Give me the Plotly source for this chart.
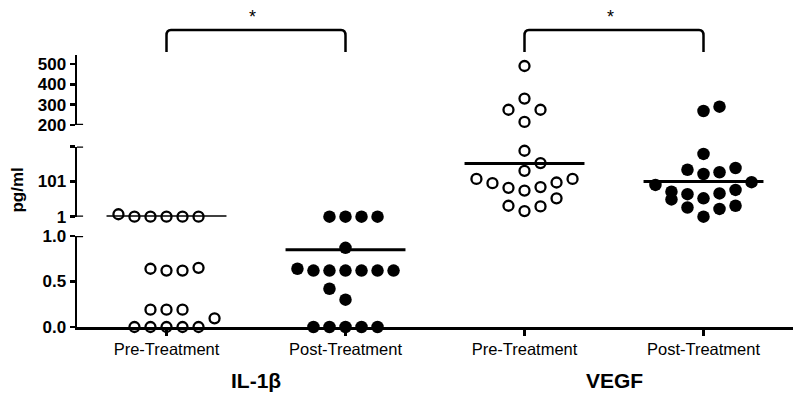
import plotly.graph_objects as go

# ---------------- data ----------------
categories = ["Pre-Treatment", "Post-Treatment", "Pre-Treatment", "Post-Treatment"]
groups = ["IL-1β", "VEGF"]

il1b_pre = [8, 1, 1, 1, 1, 1, 0.64, 0.62, 0.62, 0.65, 0.19, 0.19, 0.19, 0.095, 0, 0, 0, 0, 0]
il1b_pre_slot = [-3, -2, -1, 0, 1, 2, -1, 0, 1, 2, -1, 0, 1, 3, -2, -1, 0, 1, 2]

il1b_post = [1, 1, 1, 1, 0.87, 0.64, 0.62, 0.62, 0.62, 0.62, 0.62, 0.62, 0.42, 0.30, 0, 0, 0, 0, 0]
il1b_post_slot = [-1, 0, 1, 2, 0, -3, -2, -1, 0, 1, 2, 3, -1, 0, -2, -1, 0, 1, 2]

vegf_pre = [490, 330, 275, 275, 215, 188, 153, 131, 108, 108, 96, 98, 83, 85, 75, 53, 32, 30, 17]
vegf_pre_slot = [0, 0, -1, 1, 0, 0, 1, 0, -3, 3, -2, 2, -1, 1, 0, 2, -1, 1, 0]

vegf_post = [269, 290, 179, 134, 122, 127, 139, 91, 99, 72, 50, 65, 53, 67, 77, 27, 23, 32, 1]
vegf_post_slot = [0, 1, 0, -1, 0, 1, 2, -3, 3, -2, -2, -1, 0, 1, 2, -1, 1, 2, 0]

mean_values = [1, 0.85, 152, 101]

# axis break segments
seg_bottom = [0, 1.0]
seg_middle = [1, 200]
seg_top = [200, 544]

# ---------------- helpers ----------------
SLOT = 0.0895
HALF = 0.335


def seg(v):
    if v < 1:
        return "y"
    if v < 200:
        return "y2"
    return "y3"


series = [
    (il1b_pre, il1b_pre_slot, False),
    (il1b_post, il1b_post_slot, True),
    (vegf_pre, vegf_pre_slot, False),
    (vegf_post, vegf_post_slot, True),
]

fig = go.Figure()

for ci, (vals, slots, filled) in enumerate(series):
    for ax in ["y", "y2", "y3"]:
        xs = [ci + s * SLOT for v, s in zip(vals, slots) if seg(v) == ax]
        ys = [v for v in vals if seg(v) == ax]
        if not xs:
            continue
        if filled:
            marker = dict(symbol="circle", size=12.5, color="black", line=dict(width=0))
        else:
            marker = dict(symbol="circle-open", size=10, color="black", line=dict(width=2.3, color="black"))
        fig.add_trace(go.Scatter(x=xs, y=ys, mode="markers", marker=marker,
                                 xaxis="x", yaxis=ax, cliponaxis=False, hoverinfo="skip"))
    m = mean_values[ci]
    fig.add_trace(go.Scatter(x=[ci - HALF, ci + HALF], y=[m, m], mode="lines",
                             line=dict(color="black", width=3), xaxis="x", yaxis=seg(m),
                             cliponaxis=False, hoverinfo="skip"))

FONT = "Liberation Sans, Arial, sans-serif"
axis_common = dict(showline=True, linecolor="black", linewidth=2.5, ticks="outside",
                   ticklen=5, tickwidth=2.5, tickcolor="black", showgrid=False, zeroline=False,
                   tickfont=dict(family=FONT, size=17, color="black", weight="bold"))

fig.update_layout(
    width=800, height=408,
    margin=dict(l=77, r=7, t=55, b=81),
    plot_bgcolor="white", paper_bgcolor="white",
    showlegend=False,
    xaxis=dict(range=[-0.5, 3.5], showline=True, linecolor="black", linewidth=2.5,
               ticks="outside", ticklen=6, tickwidth=2.5, tickcolor="black",
               tickvals=[0, 1, 2, 3], ticktext=categories, showgrid=False, zeroline=False,
               tickfont=dict(family=FONT, size=16.5, color="black"),
               anchor="y"),
    yaxis=dict(domain=[0, 0.3346], range=seg_bottom, tickvals=[0, 0.5, 1.0],
               ticktext=["0.0", "0.5", "1.0"], anchor="x", **axis_common),
    yaxis2=dict(domain=[0.4055, 0.6636], range=seg_middle, tickvals=[1, 101, 200],
                ticktext=["1", "101", ""], anchor="x", **axis_common),
    yaxis3=dict(domain=[0.7426, 1.0], range=seg_top, tickvals=[200, 300, 400, 500],
                ticktext=["200", "300", "400", "500"], anchor="x", **axis_common),
)

# caps on the broken axis segments (extend to the right of the axis line)
for yref, yv in [("y", 1.0), ("y2", 1), ("y2", 200), ("y3", 200)]:
    fig.add_shape(type="line", xref="paper", yref=yref, x0=0, x1=0.0085, y0=yv, y1=yv,
                  line=dict(color="black", width=2.5))


# significance brackets
def bracket(xa, xb):
    yb, yt, r = 1.011, 1.092, 0.02
    rx = 0.025
    return (f"M {xa},{yb} L {xa},{yt - r} Q {xa},{yt} {xa + rx},{yt} "
            f"L {xb - rx},{yt} Q {xb},{yt} {xb},{yt - r} L {xb},{yb}")


for a, b in [(0, 1), (2, 3)]:
    fig.add_shape(type="path", xref="x", yref="paper", path=bracket(a, b),
                  line=dict(color="black", width=2.5))
    fig.add_annotation(x=(a + b) / 2 - 0.02, y=1.185, xref="x", yref="paper", text="*",
                       showarrow=False, font=dict(family=FONT, size=18, color="black"))

# group labels
for gi, g in enumerate(groups):
    fig.add_annotation(x=gi * 2 + 0.5, y=-0.246, xref="x", yref="paper", text=g,
                       showarrow=False, font=dict(family=FONT, size=21, color="black", weight="bold"))

# y-axis title
fig.add_annotation(x=-0.099, y=0.504, xref="paper", yref="paper", text="pg/ml", textangle=-90,
                   showarrow=False, font=dict(family=FONT, size=17, color="black", weight="bold"))

fig.write_html("out.html", config={"displayModeBar": False, "staticPlot": True},
               post_script="document.body.style.margin='0';document.body.style.padding='0';")
